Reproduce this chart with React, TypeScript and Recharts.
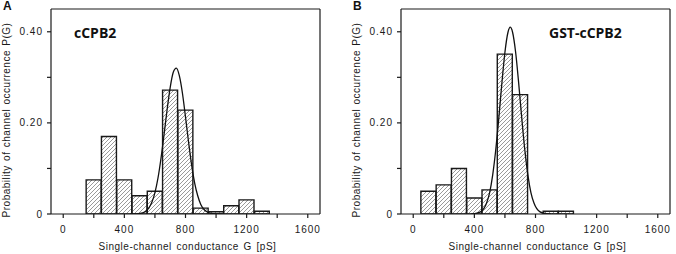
import React from 'react';
import { ComposedChart, Bar, Line, XAxis, YAxis } from 'recharts';

// Histogram bins (bin centres, pS) and probabilities
const binCentersA = [200, 300, 400, 500, 600, 700, 800, 900, 1000, 1100, 1200, 1300];
const probA = [0.075, 0.17, 0.075, 0.04, 0.05, 0.272, 0.228, 0.013, 0.005, 0.018, 0.031, 0.006];

const binCentersB = [100, 200, 300, 400, 500, 600, 700, 800, 900, 1000];
const probB = [0.05, 0.064, 0.1, 0.035, 0.053, 0.351, 0.262, 0, 0.006, 0.006];

// Fitted curves
const fitGA = [440, 480, 520, 560, 600, 620, 640, 660, 680, 700, 720, 740, 760, 780, 800, 820, 840, 860, 880, 900, 920, 940, 980, 1040];
const fitPA = [0, 0.0004, 0.0026, 0.013, 0.047, 0.079, 0.123, 0.175, 0.23, 0.278, 0.311, 0.32, 0.303, 0.265, 0.213, 0.158, 0.108, 0.068, 0.04, 0.021, 0.0105, 0.0048, 0.0008, 0];

const fitGB = [380, 400, 440, 480, 500, 520, 540, 560, 580, 600, 620, 635, 650, 670, 690, 710, 730, 750, 770, 790, 830, 870, 900];
const fitPB = [0, 0.0006, 0.0046, 0.024, 0.047, 0.086, 0.141, 0.211, 0.287, 0.355, 0.399, 0.41, 0.399, 0.355, 0.287, 0.211, 0.141, 0.086, 0.047, 0.024, 0.0046, 0.0006, 0];

const xTicks = [0, 200, 400, 600, 800, 1000, 1200, 1400, 1600];
const xLabelTicks = [0, 400, 800, 1200, 1600];
const yTicks = [0, 0.1, 0.2, 0.3, 0.4];
const yLabelTicks: Record<string, string> = { '0': '0', '0.2': '0.20', '0.4': '0.40' };

const xTitle = 'Single-channel conductance G [pS]';
const yTitle = 'Probability of channel occurrence P(G)';

const X_DOMAIN: [number, number] = [-80, 1680];
const Y_DOMAIN: [number, number] = [0, 0.45];

const FONT = "'Liberation Sans', Arial, sans-serif";
const INK = '#1a1a1a';

const tickStyle = { fill: INK, fontSize: 10, fontFamily: FONT, letterSpacing: 1 };
const axisStyle = { stroke: INK, strokeWidth: 1.2 };

type PanelProps = {
  id: string;
  width: number;
  rightW: number;
  letter: string;
  title: string;
  titleX: number;
  centers: number[];
  probs: number[];
  fitG: number[];
  fitP: number[];
};

function Panel({ id, width, rightW, letter, title, titleX, centers, probs, fitG, fitP }: PanelProps) {
  const barData = centers.map((g, i) => ({ g, p: probs[i] }));
  const fitData = fitG.map((g, i) => ({ g, p: fitP[i] }));
  const plotLeft = 51;
  const plotRight = width - rightW;
  const midX = (plotLeft + plotRight) / 2;
  return (
    <ComposedChart
      width={width}
      height={254}
      data={barData}
      margin={{ top: 0, right: 0, bottom: 0, left: 0 }}
      barCategoryGap={0}
      barGap={0}
    >
      <defs>
        <pattern id={`hatch${id}`} patternUnits="userSpaceOnUse" width={4} height={4}>
          <path d="M-1,1 l2,-2 M0,4 l4,-4 M3,5 l2,-2" stroke="#555" strokeWidth={0.6} />
        </pattern>
      </defs>
      <XAxis
        xAxisId="main"
        type="number"
        dataKey="g"
        domain={X_DOMAIN}
        ticks={xTicks}
        allowDataOverflow
        height={40}
        tickSize={4}
        tickMargin={8}
        axisLine={axisStyle}
        tickLine={axisStyle}
        tick={tickStyle}
        tickFormatter={(v: number) => (xLabelTicks.includes(v) ? String(v) : '')}
      />
      <XAxis xAxisId="bars" type="number" dataKey="g" domain={X_DOMAIN} hide height={0} allowDataOverflow />
      <XAxis
        xAxisId="top"
        orientation="top"
        type="number"
        dataKey="g"
        domain={X_DOMAIN}
        ticks={xTicks}
        allowDataOverflow
        height={9}
        tickSize={4}
        axisLine={axisStyle}
        tickLine={axisStyle}
        tick={false}
      />
      <YAxis
        yAxisId="left"
        type="number"
        domain={Y_DOMAIN}
        ticks={yTicks}
        allowDataOverflow
        width={plotLeft}
        tickSize={4}
        tickMargin={4}
        axisLine={axisStyle}
        tickLine={axisStyle}
        tick={tickStyle}
        tickFormatter={(v: number) => yLabelTicks[String(Math.round(v * 10) / 10)] ?? ''}
      />
      <YAxis
        yAxisId="right"
        orientation="right"
        type="number"
        domain={Y_DOMAIN}
        ticks={yTicks}
        allowDataOverflow
        width={rightW}
        tickSize={4}
        axisLine={axisStyle}
        tickLine={axisStyle}
        tick={false}
      />
      <Bar
        xAxisId="bars"
        yAxisId="left"
        dataKey="p"
        fill={`url(#hatch${id})`}
        stroke={INK}
        strokeWidth={1.4}
        isAnimationActive={false}
      />
      <Line
        data={fitData}
        xAxisId="top"
        yAxisId="right"
        dataKey="p"
        stroke="none"
        dot={false}
        activeDot={false}
        legendType="none"
        isAnimationActive={false}
      />
      <Line
        data={fitData}
        xAxisId="main"
        yAxisId="left"
        dataKey="p"
        type="monotone"
        stroke="#111"
        strokeWidth={1.3}
        dot={false}
        activeDot={false}
        isAnimationActive={false}
      />
      <text x={3} y={10} fontFamily={FONT} fontWeight="bold" fontSize={12} fill="#111">
        {letter}
      </text>
      <text x={titleX} y={38} fontFamily="'Open Sans', sans-serif" fontWeight="bold" fontSize={14} fill="#111">
        {title}
      </text>
      <text
        x={midX + 2}
        y={250}
        textAnchor="middle"
        fontFamily={FONT}
        fontSize={10}
        letterSpacing={0.5}
        wordSpacing={1.5}
        fill={INK}
      >
        {xTitle}
      </text>
      <text
        transform="rotate(-90)"
        x={-120}
        y={10}
        textAnchor="middle"
        fontFamily={FONT}
        fontSize={10}
        letterSpacing={0.5}
        wordSpacing={1}
        fill={INK}
      >
        {yTitle}
      </text>
    </ComposedChart>
  );
}

export default function App() {
  return (
    <div style={{ position: 'absolute', left: 0, top: 0, width: 676, height: 254, background: '#fff' }}>
      <div style={{ position: 'absolute', left: 0, top: 0 }}>
        <Panel
          id="A"
          width={338}
          rightW={18}
          letter="A"
          title="cCPB2"
          titleX={74}
          centers={binCentersA}
          probs={probA}
          fitG={fitGA}
          fitP={fitPA}
        />
      </div>
      <div style={{ position: 'absolute', left: 350, top: 0 }}>
        <Panel
          id="B"
          width={326}
          rightW={6}
          letter="B"
          title="GST-cCPB2"
          titleX={199}
          centers={binCentersB}
          probs={probB}
          fitG={fitGB}
          fitP={fitPB}
        />
      </div>
    </div>
  );
}
